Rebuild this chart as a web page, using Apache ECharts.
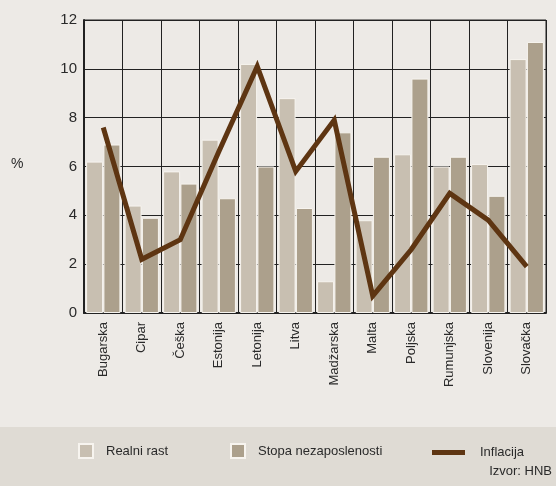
<!DOCTYPE html>
<html>
<head>
<meta charset="utf-8">
<script src="https://cdn.jsdelivr.net/npm/echarts@6/dist/echarts.min.js"></script>
<style>
  html, body { margin: 0; padding: 0; background: #edeae6; }
  #chart { width: 556px; height: 486px; }
</style>
</head>
<body>
<div id="chart"></div>
<script>
// podaci
var countries = ['Bugarska', 'Cipar', 'Češka', 'Estonija', 'Letonija', 'Litva',
  'Madžarska', 'Malta', 'Poljska', 'Rumunjska', 'Slovenija', 'Slovačka'];
var realniRast = [6.2, 4.4, 5.8, 7.1, 10.2, 8.8, 1.3, 3.8, 6.5, 6.0, 6.1, 10.4];
var nezaposlenost = [6.9, 3.9, 5.3, 4.7, 6.0, 4.3, 7.4, 6.4, 9.6, 6.4, 4.8, 11.1];
var inflacija = [7.6, 2.2, 3.0, 6.6, 10.1, 5.8, 7.9, 0.7, 2.6, 4.9, 3.8, 1.9];
var yTicks = [0, 2, 4, 6, 8, 10, 12];

var font = "'Liberation Sans Narrow', 'Liberation Sans', sans-serif";
var txt = '#2a2a2a';

var myChart = echarts.init(document.getElementById('chart'));
myChart.setOption({
  backgroundColor: '#edeae6',
  textStyle: { fontFamily: font },
  graphic: [
    {
      type: 'rect', z: -10,
      shape: { x: 0, y: 427, width: 556, height: 59 },
      style: { fill: '#dfdbd4' }
    },
    {
      type: 'text', left: 11, top: 157,
      style: { text: '%', fill: txt, font: '14px ' + font }
    },
    {
      type: 'text', right: 4, top: 465,
      style: { text: 'Izvor: HNB', fill: txt, font: '13px ' + font }
    }
  ],
  grid: {
    left: 84, top: 20, right: 10, bottom: 173,
    show: true, borderColor: '#222', borderWidth: 1
  },
  legend: [
    {
      left: 78, top: 443, padding: 0, itemWidth: 14, itemHeight: 14,
      data: [{ name: 'Realni rast', icon: 'rect' }],
      textStyle: { color: txt, fontSize: 13, fontFamily: font, padding: [0, 0, 0, 8] }
    },
    {
      left: 230, top: 443, padding: 0, itemWidth: 14, itemHeight: 14,
      data: [{ name: 'Stopa nezaposlenosti', icon: 'rect' }],
      textStyle: { color: txt, fontSize: 13, fontFamily: font, padding: [0, 0, 0, 8] }
    },
    {
      left: 432, top: 446, padding: 0, itemWidth: 33, itemHeight: 14,
      data: [{ name: 'Inflacija', icon: 'path://M0,40L100,40L100,55L0,55Z' }],
      textStyle: { color: txt, fontSize: 13, fontFamily: font, padding: [0, 0, 0, 10] }
    }
  ],
  xAxis: {
    type: 'category',
    data: countries,
    axisLine: { lineStyle: { color: '#222', width: 2 } },
    axisTick: { show: false },
    splitLine: { show: true, interval: 0, lineStyle: { color: '#222', width: 1 } },
    axisLabel: {
      interval: 0, rotate: 90, color: txt, fontSize: 13, fontFamily: font, margin: 9
    }
  },
  yAxis: {
    type: 'value',
    min: yTicks[0], max: yTicks[yTicks.length - 1], interval: 2,
    axisLine: { show: true, lineStyle: { color: '#222', width: 2 } },
    axisTick: { show: false },
    splitLine: { lineStyle: { color: '#222', width: 1 } },
    axisLabel: { color: txt, fontSize: 15, fontFamily: font, margin: 7 }
  },
  series: [
    {
      name: 'Realni rast', type: 'bar', data: realniRast,
      barWidth: 17, barGap: '2%',
      itemStyle: { color: '#c8bfb1', borderColor: '#f7f4ef', borderWidth: 1 }
    },
    {
      name: 'Stopa nezaposlenosti', type: 'bar', data: nezaposlenost,
      barWidth: 17,
      itemStyle: { color: '#aca08c', borderColor: '#f7f4ef', borderWidth: 1 }
    },
    {
      name: 'Inflacija', type: 'line', data: inflacija,
      symbol: 'none', z: 5,
      lineStyle: { color: '#5e3512', width: 5, join: 'miter' },
      itemStyle: { color: '#5e3512' }
    }
  ]
});
</script>
</body>
</html>
